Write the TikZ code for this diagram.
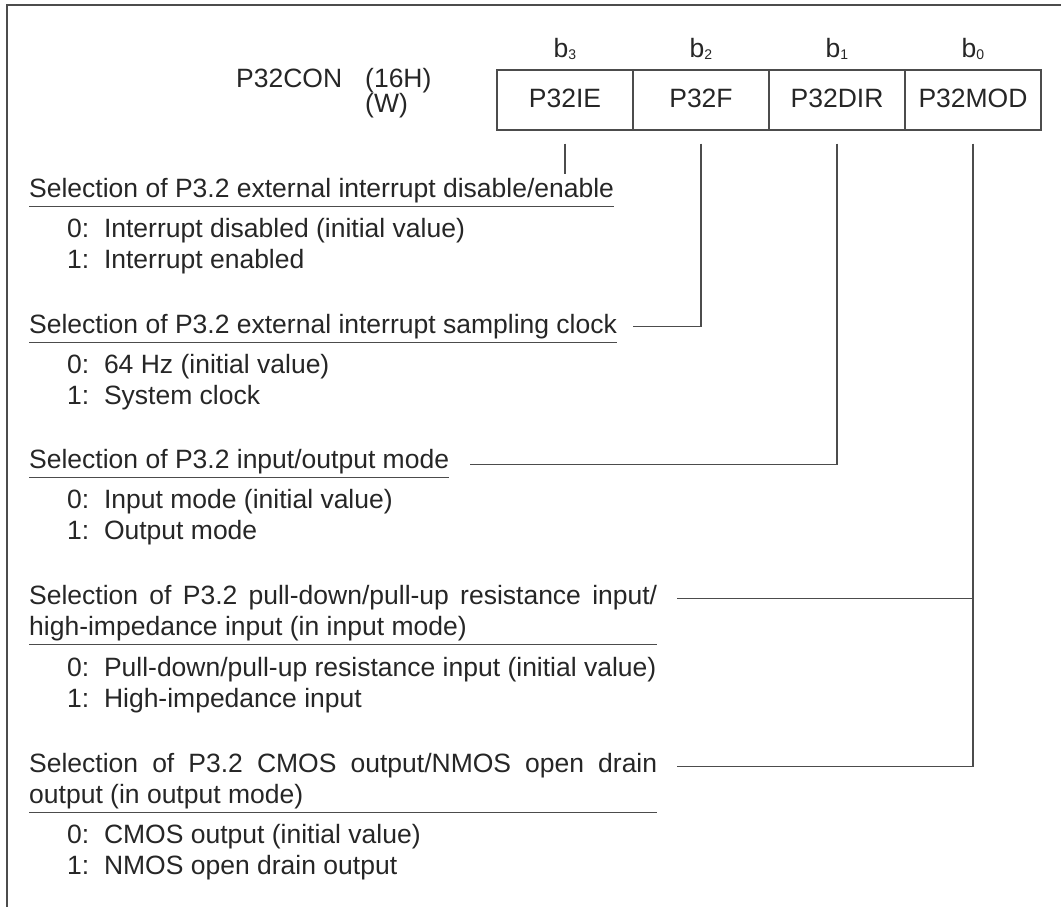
\documentclass[tikz,border=0pt]{standalone}
\usepackage{fontspec}
\setmainfont{Liberation Sans}
\hyphenpenalty=10000
\exhyphenpenalty=10000
\tolerance=10000
\begin{document}
\begin{tikzpicture}[x=1pt, y=-1pt,
    every node/.style={text=black!85, font=\fontsize{26.5}{31}\selectfont},
    cell/.style={draw=black!70, line width=1.3pt, minimum width=136pt,
        minimum height=60pt, text height=19pt, text depth=4pt, inner sep=0pt},
    item/.style={anchor=base west, inner sep=0pt},
    heading/.style={anchor=base west, inner xsep=0pt, inner ysep=3.5pt},
    block/.style={heading, text width=628pt, align=justify},
    lead/.style={draw=black!70, line width=1.3pt}]
    \useasboundingbox (0,0) rectangle (1061,907);

    % frame (cut off at right and bottom)
    \draw[lead, line width=1.6pt] (7,907) -- (7,5) -- (1061,5);

    % register name
    \node (reg) [item] at (236,88) {P32CON};
    \node (adr) [item] at (365,88) {(16H)};
    \node (rw)  [item] at (365,113) {(W)};

    \foreach \bitno/\field [count=\i from 0] in {3/P32IE, 2/P32F, 1/P32DIR, 0/P32MOD} {
        \node (c\bitno) [cell] at ({565+136*\i},100) {\field};
        \node (b\bitno) [item, anchor=base] at ({565+136*\i},58)
            {b\raisebox{-2pt}{\fontsize{14}{14}\selectfont\bitno}};
    }

    % b3
    \node (h1) [heading] at (29,197) {Selection of P3.2 external interrupt disable/enable};
    \node (h1a) [item] at (67,237) {0:~~Interrupt disabled (initial value)};
    \node (h1b) [item] at (67,268) {1:~~Interrupt enabled};

    % b2
    \node (h2) [heading] at (29,333) {Selection of P3.2 external interrupt sampling clock};
    \node (h2a) [item] at (67,373) {0:~~64 Hz (initial value)};
    \node (h2b) [item] at (67,404) {1:~~System clock};

    % b1
    \node (h3) [heading] at (29,468) {Selection of P3.2 input/output mode};
    \node (h3a) [item] at (67,508) {0:~~Input mode (initial value)};
    \node (h3b) [item] at (67,539) {1:~~Output mode};

    % b0
    \node (h4) [block] at (29,604) {Selection of P3.2 pull-down/pull-up resistance input/\linebreak
        high-impedance input (in input mode)};
    \node (h4a) [item] at (67,676) {0:~~Pull-down/pull-up resistance input (initial value)};
    \node (h4b) [item] at (67,707) {1:~~High-impedance input};

    \node (h5) [block] at (29,772) {Selection of P3.2 CMOS output/NMOS open drain\linebreak
        output (in output mode)};
    \node (h5a) [item] at (67,843) {0:~~CMOS output (initial value)};
    \node (h5b) [item] at (67,874) {1:~~NMOS open drain output};

    \foreach \h in {h1,h2,h3,h4,h5}
        \draw[lead] (\h.south west) -- (\h.south east);

    % leaders
    \coordinate (j4) at ([xshift=20pt,yshift=-17.5pt]h4.north east);
    \coordinate (j5) at ([xshift=20pt,yshift=-17.5pt]h5.north east);

    \draw[lead] ([yshift=-13pt]c3.south) -- (c3.south |- h1.north);
    \draw[lead] ([yshift=-13pt]c2.south) |- ([xshift=16pt]h2.east);
    \draw[lead] ([yshift=-13pt]c1.south) |- ([xshift=21pt,yshift=-3pt]h3.east);
    \draw[lead] ([yshift=-13pt]c0.south) |- (j5);
    \draw[lead] (j4) -- (j4 -| c0.south);
\end{tikzpicture}
\end{document}
